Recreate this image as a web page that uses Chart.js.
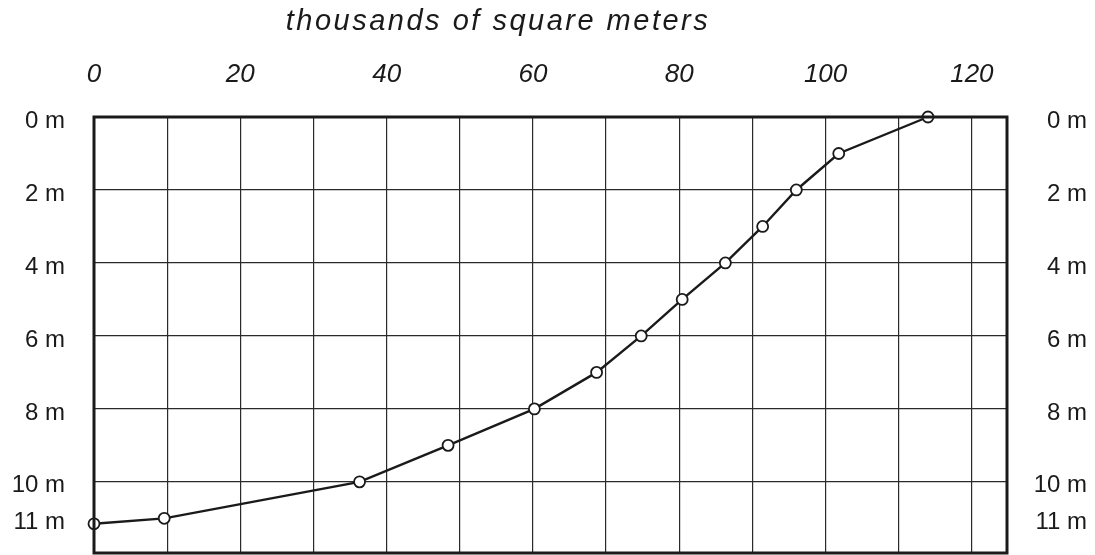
<!DOCTYPE html>
<html>
<head>
<meta charset="utf-8">
<script src="https://cdn.jsdelivr.net/npm/chart.js@4"></script>
<style>
  html, body { margin: 0; padding: 0; background: #fff; }
  #wrap { width: 1095px; height: 555px; position: relative; }
</style>
</head>
<body>
<div id="wrap"><canvas id="chart"></canvas></div>
<script>
// area in thousands of square meters
const area = [114, 101.8, 96, 91.4, 86.3, 80.4, 74.8, 68.7, 60.2, 48.4, 36.3, 9.6, 0];
// depth in meters for each point
const depth = [0, 1, 2, 3, 4, 5, 6, 7, 8, 9, 10, 11, 11.15];

const xTicks = [0, 10, 20, 30, 40, 50, 60, 70, 80, 90, 100, 110, 120];
const xLabelled = [0, 20, 40, 60, 80, 100, 120];
const yTicks = [0, 2, 4, 6, 8, 10, 11];
const yGrid = [0, 2, 4, 6, 8, 10];

const caption = "thousands of square meters";

const ink = "#1a1a1a";
const fontFamily = "'Liberation Sans', Arial, sans-serif";

const frame = {
  id: "frame",
  afterDraw(chart) {
    const { ctx, chartArea: a } = chart;
    ctx.save();
    ctx.strokeStyle = ink;
    ctx.lineWidth = 3;
    ctx.strokeRect(a.left, a.top, a.right - a.left, a.bottom - a.top);
    ctx.font = "italic 29px " + fontFamily;
    ctx.letterSpacing = "2.5px";
    ctx.fillStyle = ink;
    ctx.textAlign = "center";
    ctx.textBaseline = "alphabetic";
    ctx.fillText(caption, 498, 30);
    ctx.restore();
  },
};

// fixed axis sizes, and drop the label overhang padding chart.js adds
const fixSize = (w, h) => (scale) => {
  if (w != null) scale.width = w;
  if (h != null) scale.height = h;
  scale.paddingTop = 0;
  scale.paddingBottom = 0;
  scale.paddingLeft = 0;
  scale.paddingRight = 0;
};

const yTickOpts = (extra) => ({
  autoSkip: false,
  labelOffset: 4,
  color: ink,
  font: { family: fontFamily, size: 24 },
  callback: (v) => v + " m",
  ...extra,
});

new Chart(document.getElementById("chart"), {
  type: "line",
  data: {
    datasets: [{
      data: area.map((v, i) => ({ x: v, y: depth[i] })),
      borderColor: ink,
      borderWidth: 2.4,
      pointRadius: 5.5,
      pointBackgroundColor: "#fff",
      pointBorderColor: ink,
      pointBorderWidth: 1.8,
      tension: 0,
      fill: false,
      clip: false,
    }],
  },
  plugins: [frame],
  options: {
    responsive: true,
    maintainAspectRatio: false,
    animation: false,
    layout: { autoPadding: false, padding: { top: 0, bottom: 2, left: 0, right: 8 } },
    plugins: {
      legend: { display: false },
      tooltip: { enabled: false },
    },
    scales: {
      x: {
        type: "linear",
        position: "top",
        min: 0,
        max: 124.8,
        afterBuildTicks: (s) => { s.ticks = xTicks.map((v) => ({ value: v })); },
        afterFit: fixSize(null, 117),
        grid: { color: "#2a2a2a", lineWidth: 1.2, drawTicks: false },
        border: { display: false },
        ticks: {
          autoSkip: false,
          maxRotation: 0,
          padding: 27,
          color: ink,
          font: { family: fontFamily, size: 26, style: "italic" },
          callback: (v) => (xLabelled.includes(v) ? String(v) : ""),
        },
      },
      y: {
        type: "linear",
        position: "left",
        reverse: true,
        min: 0,
        max: 11.95,
        afterBuildTicks: (s) => { s.ticks = yTicks.map((v) => ({ value: v })); },
        afterFit: fixSize(94, null),
        grid: {
          drawTicks: false,
          lineWidth: 1.2,
          color: (c) => (yGrid.includes(c.tick && c.tick.value) ? "#2a2a2a" : "rgba(0,0,0,0)"),
        },
        border: { display: false },
        ticks: yTickOpts({ padding: 29 }),
      },
      y2: {
        type: "linear",
        position: "right",
        reverse: true,
        min: 0,
        max: 11.95,
        afterBuildTicks: (s) => { s.ticks = yTicks.map((v) => ({ value: v })); },
        afterFit: fixSize(80, null),
        grid: { display: false, drawTicks: false },
        border: { display: false },
        ticks: yTickOpts({ padding: 30, crossAlign: "far" }),
      },
    },
  },
});
</script>
</body>
</html>
